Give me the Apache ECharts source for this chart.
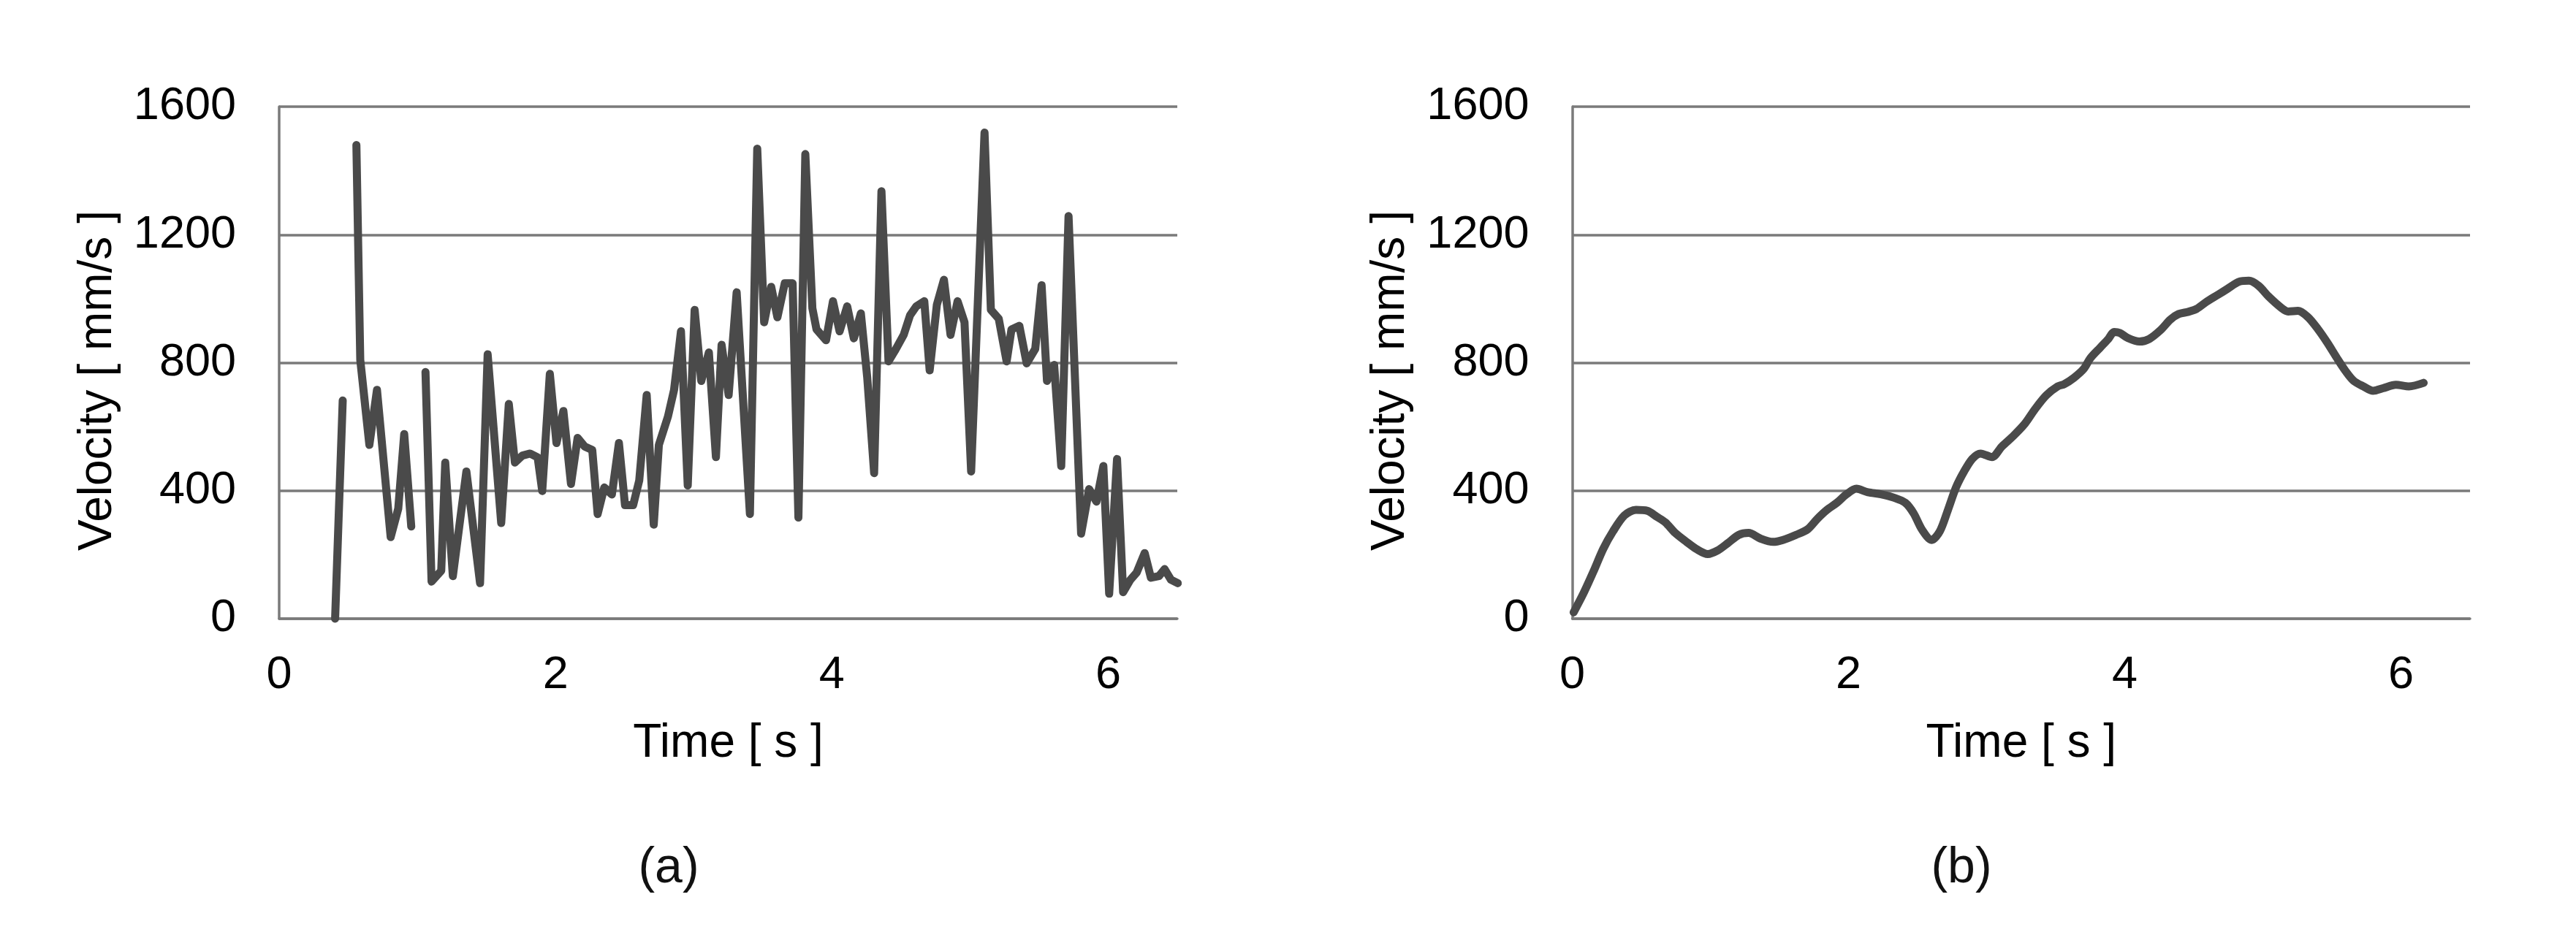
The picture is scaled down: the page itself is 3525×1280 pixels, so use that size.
<!DOCTYPE html>
<html>
<head>
<meta charset="utf-8">
<script src="https://cdn.jsdelivr.net/npm/echarts@6/dist/echarts.min.js"></script>
<style>
html,body{margin:0;padding:0;background:#fff;}
#chart{width:3525px;height:1280px;}
</style>
</head>
<body>
<div id="chart"></div>
<script>
// ---- Data: panel (a) ----
var timeA = [0.405,0.460,0.51,0.559,0.587,0.653,0.708,0.807,0.862,0.905,
  0.956,1.01,1.059,1.103,1.173,1.202,1.257,1.355,1.454,1.509,
  1.607,1.662,1.706,1.761,1.816,1.871,1.904,1.959,2.007,2.057,
  2.112,2.160,2.211,2.266,2.305,2.353,2.408,2.459,2.503,2.562,
  2.606,2.660,2.711,2.748,2.814,2.858,2.908,2.957,3.007,3.055,
  3.110,3.161,3.202,3.253,3.311,3.407,3.460,3.510,3.561,3.606,
  3.659,3.716,3.758,3.808,3.859,3.889,3.958,4.008,4.056,4.111,
  4.159,4.210,4.256,4.306,4.359,4.410,4.456,4.520,4.566,4.611,
  4.669,4.708,4.760,4.811,4.859,4.910,4.960,5.008,5.105,5.151,
  5.208,5.265,5.300,5.357,5.410,5.472,5.518,5.557,5.609,5.660,
  5.713,5.804,5.862,5.915,5.965,6.007,6.064,6.108,6.161,6.206,
  6.264,6.309,6.367,6.408,6.454,6.504];
var velA = [0,682,null,1480,809,543,715,255,344,577,
  288,null,771,116,150,488,133,460,111,826,
  299,671,488,510,516,504,399,765,549,649,
  421,565,538,527,327,410,388,549,355,355,
  432,699,294,543,632,715,898,416,965,743,
  832,505,856,699,1020,327,1469,926,1037,942,
  1048,1048,316,1452,970,904,870,992,898,976,
  876,954,754,455,1336,804,837,887,948,976,
  992,776,981,1059,887,992,926,460,1519,965,
  937,804,904,915,798,843,1042,743,793,477,
  1258,266,405,366,477,78,499,83,122,144,
  205,128,133,155,122,111];

// ---- Data: panel (b) ----
var timeB = [0.01,0.082,0.153,0.224,0.295,0.378,0.461,0.543,0.614,0.674,
  0.745,0.827,0.898,0.981,1.052,1.123,1.206,1.277,1.359,1.454,
  1.525,1.620,1.703,1.774,1.844,1.915,1.986,2.057,2.140,2.235,
  2.330,2.412,2.472,2.531,2.602,2.661,2.720,2.779,2.838,2.897,
  2.956,3.039,3.110,3.193,3.278,3.349,3.432,3.515,3.562,3.633,
  3.704,3.751,3.822,3.881,3.924,3.964,4.023,4.106,4.177,4.260,
  4.331,4.390,4.461,4.520,4.591,4.674,4.745,4.828,4.899,4.970,
  5.041,5.135,5.183,5.254,5.325,5.395,5.466,5.537,5.597,5.656,
  5.727,5.798,5.869,5.963,6.058,6.164];
var velB = [20,80,147,218,273,323,340,337,318,301,
  268,240,218,202,213,235,262,268,251,240,
  246,262,279,312,340,362,389,406,395,389,
  378,362,329,279,246,273,340,411,461,500,
  516,505,538,571,610,654,698,726,733,753,
  781,814,847,874,896,893,877,866,874,902,
  935,952,959,968,990,1012,1031,1053,1056,1040,
  1007,971,960,962,943,907,863,814,775,744,
  726,712,720,731,726,737];

var panelLabels = ['(a)', '(b)'];
var xName = 'Time [ s ]';
var yName = 'Velocity [ mm/s ]';

function pairs(t, v) {
  return t.map(function (x, i) { return [x, v[i] === null ? '-' : v[i]]; });
}

var FONT = 'Liberation Sans, Arial, sans-serif';
var GRID_COLOR = '#7a7a7a';
var LINE_COLOR = '#4a4a4a';

function xAxisCfg(idx) {
  return {
    type: 'value', gridIndex: idx, min: 0, max: 6.5, interval: 2,
    name: xName, nameLocation: 'middle', nameGap: 139,
    nameTextStyle: { fontFamily: FONT, fontSize: 64, color: '#000' },
    axisLine: { show: true, lineStyle: { color: GRID_COLOR, width: 3.5 } },
    axisTick: { show: false },
    splitLine: { show: false },
    axisLabel: { fontFamily: FONT, fontSize: 63, color: '#000', margin: 46,
      showMaxLabel: false, formatter: function (v) { return String(v); } }
  };
}
function yAxisCfg(idx) {
  return {
    type: 'value', gridIndex: idx, min: 0, max: 1600, interval: 400,
    name: yName, nameLocation: 'middle', nameGap: 216, nameRotate: 90,
    nameTextStyle: { fontFamily: FONT, fontSize: 64, color: '#000', padding: [0, 49, 0, 0] },
    axisLine: { show: true, lineStyle: { color: GRID_COLOR, width: 3.5 } },
    axisTick: { show: false },
    splitLine: { show: true, lineStyle: { color: GRID_COLOR, width: 3.5 } },
    axisLabel: { fontFamily: FONT, fontSize: 63, color: '#000', margin: 59,
      formatter: function (v) { return String(v); } }
  };
}
function seriesCfg(idx, data, smooth) {
  return {
    type: 'line', xAxisIndex: idx, yAxisIndex: idx, data: data,
    showSymbol: false, symbol: 'none', smooth: smooth, connectNulls: false,
    clip: false, animation: false,
    lineStyle: { color: LINE_COLOR, width: 11, cap: 'round', join: 'round' }
  };
}

var chart = echarts.init(document.getElementById('chart'), null, { renderer: 'canvas' });
chart.setOption({
  backgroundColor: '#fff',
  animation: false,
  grid: [
    { left: 382, top: 146, width: 1229, height: 701 },
    { left: 2151.5, top: 146, width: 1228.5, height: 701 }
  ],
  xAxis: [xAxisCfg(0), xAxisCfg(1)],
  yAxis: [yAxisCfg(0), yAxisCfg(1)],
  series: [
    seriesCfg(0, pairs(timeA, velA), false),
    seriesCfg(1, pairs(timeB, velB), 0.3)
  ],
  graphic: [
    { type: 'text', x: 915, y: 1189, style: { text: panelLabels[0], font: '68px ' + FONT, fill: '#111', align: 'center', verticalAlign: 'middle' } },
    { type: 'text', x: 2684, y: 1189, style: { text: panelLabels[1], font: '68px ' + FONT, fill: '#111', align: 'center', verticalAlign: 'middle' } }
  ]
});
</script>
</body>
</html>
